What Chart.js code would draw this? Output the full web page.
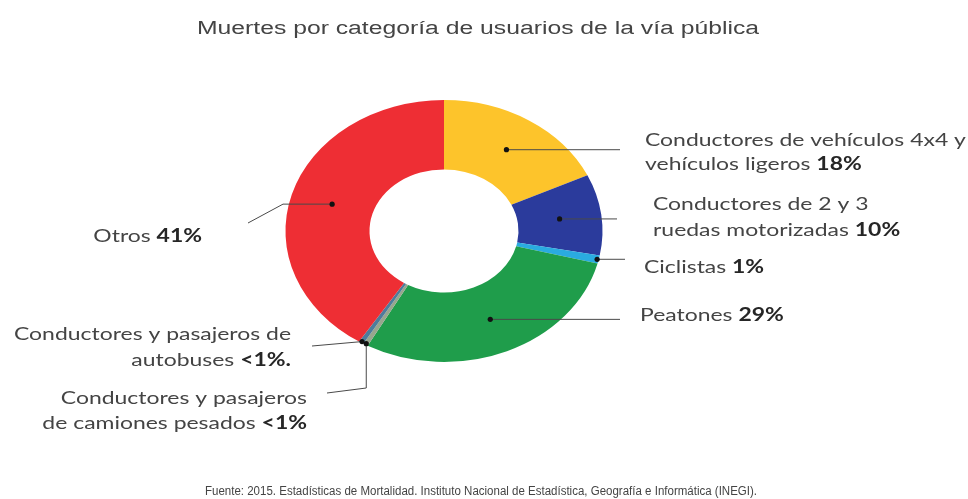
<!DOCTYPE html>
<html>
<head>
<meta charset="utf-8">
<script src="https://cdn.jsdelivr.net/npm/chart.js@4.4.0/dist/chart.umd.min.js"></script>
<style>
  html, body { margin: 0; padding: 0; background: #fff; }
  #wrap { width: 968px; height: 499px; position: relative; }
</style>
</head>
<body>
<div id="wrap"><canvas id="grafica"></canvas></div>
<script>
// datos
const categorias = [
  'Conductores de vehículos 4x4 y vehículos ligeros',
  'Conductores de 2 y 3 ruedas motorizadas',
  'Ciclistas',
  'Peatones',
  'Conductores y pasajeros de camiones pesados',
  'Conductores y pasajeros de autobuses',
  'Otros'
]
const porcentajes = [18, 10, 1, 29, 0.5, 0.5, 41]
const etiquetasPct = ['18%', '10%', '1%', '29%', '<1%', '<1%.', '41%']
const colores = ['#FDC42B', '#2B3B9C', '#2AABE0', '#1F9D4B', '#98A68E', '#4E7C9B', '#EE2E34']

const titulo = 'Muertes por categoría de usuarios de la vía pública'
const fuente = 'Fuente: 2015. Estadísticas de Mortalidad. Instituto Nacional de Estadística, Geografía e Informática (INEGI).'

// como se parte cada nombre en renglones y donde va
const rotulos = [
  { lineas: ['Conductores de vehículos 4x4 y', 'vehículos ligeros'], x: 645, y: [140, 164], align: 'left', r: 0.74, guia: [[620, null]] },
  { lineas: ['Conductores de 2 y 3', 'ruedas motorizadas'], x: 653, y: [204, 230], align: 'left', r: 0.74, guia: [[617, null]] },
  { lineas: ['Ciclistas'], x: 644, y: [267], align: 'left', r: 0.99, guia: [[625, null]] },
  { lineas: ['Peatones'], x: 640, y: [315], align: 'left', r: 0.74, guia: [[620, null]] },
  { lineas: ['Conductores y pasajeros', 'de camiones pesados'], x: 307, y: [398, 423], align: 'right', r: 0.99, guia: [[null, 388], [327, 393]] },
  { lineas: ['Conductores y pasajeros de', 'autobuses'], x: 291, y: [334, 360], align: 'right', r: 0.99, guia: [[312, 346]] },
  { lineas: ['Otros'], x: 202, y: [236], align: 'right', r: 0.74, guia: [[283, null], [248, 223]] }
]

const ESTIRA = 1.21

function escribe(ctx, segs, x, y, align, size, familia, sx) {
  let total = 0
  const anchos = segs.map(s => {
    ctx.font = (s.b ? 'bold ' : '') + size + 'px ' + familia
    const w = ctx.measureText(s.t).width * sx
    total += w
    return w
  })
  let cur = align === 'right' ? x - total : align === 'center' ? x - total / 2 : x
  segs.forEach((s, i) => {
    ctx.font = (s.b ? 'bold ' : '') + size + 'px ' + familia
    ctx.fillStyle = s.b ? '#262626' : '#444'
    ctx.save()
    ctx.translate(cur, y)
    ctx.scale(sx, 1)
    ctx.fillText(s.t, 0, 0)
    ctx.restore()
    cur += anchos[i]
  })
}

const elipse = {
  id: 'elipse',
  beforeDatasetsDraw(chart) {
    const arco = chart.getDatasetMeta(0).data[0]
    const ctx = chart.ctx
    ctx.save()
    ctx.translate(arco.x, arco.y)
    ctx.scale(ESTIRA, 1)
    ctx.translate(-arco.x, -arco.y)
  },
  afterDatasetsDraw(chart) {
    chart.ctx.restore()
  }
}

const textos = {
  id: 'textos',
  afterDraw(chart) {
    const ctx = chart.ctx
    ctx.save()
    ctx.textBaseline = 'middle'

    // titulo y fuente, ajustados al ancho de la imagen
    ctx.font = '18px "Liberation Sans", Arial, sans-serif'
    let sx = 562 / ctx.measureText(titulo).width
    escribe(ctx, [{ t: titulo }], 478, 29, 'center', 18, '"Liberation Sans", Arial, sans-serif', sx)

    ctx.font = '12px "Liberation Sans Narrow", "Liberation Sans", sans-serif'
    sx = 552 / ctx.measureText(fuente).width
    escribe(ctx, [{ t: fuente }], 481, 492, 'center', 12, '"Liberation Sans Narrow", "Liberation Sans", sans-serif', sx)

    ctx.font = '18px Lato'
    const sxl = 277 / ctx.measureText('Conductores y pasajeros de').width

    const arcos = chart.getDatasetMeta(0).data
    arcos.forEach((a, i) => {
      const p = a.getProps(['x', 'y', 'startAngle', 'endAngle', 'innerRadius', 'outerRadius'], true)
      const rot = rotulos[i]
      const ang = (p.startAngle + p.endAngle) / 2
      const rad = rot.r === 0.74 ? (p.innerRadius + p.outerRadius) / 2 : p.outerRadius * rot.r
      const px = p.x + Math.cos(ang) * rad * ESTIRA
      const py = p.y + Math.sin(ang) * rad

      // linea guia
      ctx.strokeStyle = '#4a4a4a'
      ctx.lineWidth = 1
      ctx.beginPath()
      ctx.moveTo(px, py)
      let lx = px, ly = py
      rot.guia.forEach(g => {
        lx = g[0] === null ? lx : g[0]
        ly = g[1] === null ? ly : g[1]
        ctx.lineTo(lx, ly)
      })
      ctx.stroke()
      ctx.fillStyle = '#111'
      ctx.beginPath()
      ctx.arc(px, py, 2.6, 0, Math.PI * 2)
      ctx.fill()

      // texto
      rot.lineas.forEach((l, j) => {
        const ultima = j === rot.lineas.length - 1
        const segs = ultima ? [{ t: l + ' ' }, { t: etiquetasPct[i], b: true }] : [{ t: l }]
        escribe(ctx, segs, rot.x, rot.y[j], rot.align, 18, 'Lato', sxl)
      })
    })
    ctx.restore()
  }
}

new Chart(document.getElementById('grafica'), {
  type: 'doughnut',
  data: {
    labels: categorias,
    datasets: [{
      data: porcentajes,
      backgroundColor: colores,
      borderWidth: 0,
      clip: false
    }]
  },
  options: {
    responsive: true,
    maintainAspectRatio: false,
    animation: false,
    cutout: '47%',
    layout: { padding: { top: 100, bottom: 137, left: 252, right: 332 } },
    plugins: {
      legend: { display: false },
      tooltip: { enabled: false }
    }
  },
  plugins: [elipse, textos]
})
</script>
</body>
</html>
